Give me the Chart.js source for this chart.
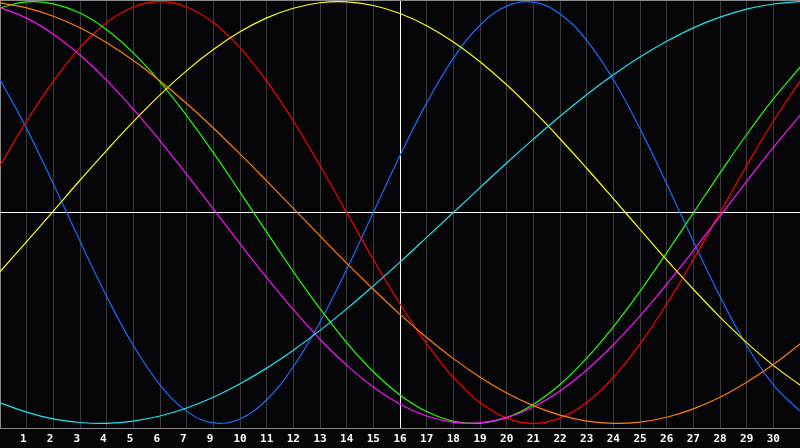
<!DOCTYPE html>
<html>
<head>
<meta charset="utf-8">
<script src="https://cdn.jsdelivr.net/npm/chart.js@4/dist/chart.umd.min.js"></script>
<style>
  html, body { margin: 0; padding: 0; background: #050508; overflow: hidden; }
  #wrap { width: 800px; height: 448px; }
</style>
</head>
<body>
<div id="wrap"><canvas id="c" width="800" height="448"></canvas></div>
<script>
// Day positions (grid steps) and their labels (day 8 is missing in the original)
const dayIndex = [0,1,2,3,4,5,6,7,8,9,10,11,12,13,14,15,16,17,18,19,20,21,22,23,24,25,26,27,28,29,30];
const dayLabels = ['1','2','3','4','5','6','7','9','10','11','12','13','14','15','16','17','18','19','20','21','22','23','24','25','26','27','28','29','30'];
const todayIndex = 15;

// Series values (range -1 .. 1)
const physical = [0.631,0.398,0.136,-0.136,-0.398,-0.631,-0.817,-0.942,-0.998,-0.979,-0.888,-0.731,-0.520,-0.270,0.000,0.270,0.520,0.731,0.888,0.979,0.998,0.942,0.817,0.631,0.398,0.136,-0.136,-0.398,-0.631,-0.817,-0.942];
const emotional = [0.223,0.434,0.623,0.782,0.901,0.975,1.000,0.975,0.901,0.782,0.623,0.434,0.223,0.000,-0.223,-0.434,-0.623,-0.782,-0.901,-0.975,-1.000,-0.975,-0.901,-0.782,-0.623,-0.434,-0.223,0.000,0.223,0.434,0.623];
const intellectual = [0.971,0.999,0.990,0.946,0.867,0.757,0.620,0.460,0.284,0.097,-0.093,-0.280,-0.456,-0.617,-0.755,-0.865,-0.944,-0.990,-0.999,-0.972,-0.910,-0.816,-0.691,-0.542,-0.374,-0.191,-0.002,0.187,0.370,0.539,0.689];
const intuitive = [0.973,0.922,0.846,0.747,0.627,0.490,0.340,0.181,0.017,-0.148,-0.309,-0.461,-0.601,-0.724,-0.828,-0.909,-0.965,-0.995,-0.998,-0.973,-0.922,-0.846,-0.747,-0.627,-0.490,-0.340,-0.181,-0.017,0.148,0.309,0.461];
const aesthetic = [-0.281,-0.138,0.007,0.153,0.295,0.431,0.558,0.673,0.773,0.857,0.923,0.969,0.995,0.999,0.982,0.944,0.886,0.809,0.715,0.606,0.483,0.350,0.210,0.066,-0.080,-0.225,-0.364,-0.496,-0.617,-0.725,-0.818];
const awareness = [0.994,0.971,0.931,0.876,0.805,0.721,0.624,0.517,0.401,0.278,0.150,0.020,-0.111,-0.240,-0.364,-0.483,-0.593,-0.693,-0.781,-0.856,-0.916,-0.961,-0.989,-1.000,-0.994,-0.971,-0.931,-0.876,-0.805,-0.721,-0.624];
const spiritual = [-0.903,-0.947,-0.979,-0.996,-1.000,-0.989,-0.965,-0.927,-0.876,-0.812,-0.738,-0.653,-0.559,-0.457,-0.348,-0.235,-0.118,0.000,0.118,0.235,0.348,0.457,0.559,0.653,0.738,0.812,0.876,0.927,0.965,0.989,1.000];

const seriesList = [
  { name: 'Spiritual', data: spiritual, color: '#19e6f0' },
  { name: 'Awareness', data: awareness, color: '#ff8000' },
  { name: 'Aesthetic', data: aesthetic, color: '#ffff00' },
  { name: 'Intuitive', data: intuitive, color: '#ff10ff' },
  { name: 'Intellectual', data: intellectual, color: '#22ff00' },
  { name: 'Emotional', data: emotional, color: '#ff0000' },
  { name: 'Physical', data: physical, color: '#1a6cff' }
];

const framePlugin = {
  id: 'frame',
  beforeDatasetsDraw(chart) {
    const { ctx, chartArea } = chart;
    ctx.save();
    ctx.strokeStyle = '#8a8a8a';
    ctx.lineWidth = 1;
    ctx.beginPath();
    ctx.moveTo(chartArea.left, chartArea.top + 0.5);
    ctx.lineTo(chartArea.right, chartArea.top + 0.5);
    ctx.stroke();
    ctx.restore();
  }
};

const bgPlugin = {
  id: 'bg',
  beforeDraw(chart) {
    const { ctx } = chart;
    ctx.save();
    ctx.fillStyle = '#050508';
    ctx.fillRect(0, 0, chart.width, chart.height);
    ctx.restore();
  }
};

new Chart(document.getElementById('c'), {
  type: 'line',
  data: {
    datasets: seriesList.map(s => ({
      label: s.name,
      data: s.data.map((v, i) => ({ x: dayIndex[i], y: v })),
      borderColor: s.color,
      borderWidth: 1.2,
      pointRadius: 0,
      pointHoverRadius: 0,
      pointHitRadius: 0,
      tension: 0.4,
      fill: false
    }))
  },
  options: {
    responsive: false,
    animation: false,
    devicePixelRatio: 1,
    layout: { padding: 0, autoPadding: false },
    plugins: { legend: { display: false }, tooltip: { enabled: false } },
    scales: {
      x: {
        type: 'linear',
        min: 0,
        max: 30,
        afterFit(scale) { scale.height = 20; scale.paddingLeft = 0; scale.paddingRight = 0; },
        afterBuildTicks(scale) { scale.ticks = dayIndex.map(v => ({ value: v })); },
        ticks: {
          autoSkip: false,
          maxRotation: 0,
          padding: 5,
          color: '#ffffff',
          font: { family: 'DejaVu Sans Mono', weight: 'bold', size: 11 },
          callback(value) {
            if (value < 1 || value > dayLabels.length) return '';
            const t = dayLabels[value - 1];
            return t.length === 1 ? t + ' ' : t;
          }
        },
        grid: {
          drawTicks: false,
          lineWidth: 1,
          color(ctx) {
            const v = ctx.tick ? ctx.tick.value : null;
            if (v === todayIndex) return '#ffffff';
            if (v === 0) return '#8a8a8a';
            return '#3a3a3a';
          }
        },
        border: { display: true, color: '#8a8a8a', width: 1 }
      },
      y: {
        min: -1.022,
        max: 1.008,
        afterFit(scale) { scale.width = 0; },
        afterBuildTicks(scale) { scale.ticks = [{ value: 0 }]; },
        ticks: { display: false },
        grid: {
          drawTicks: false,
          color: '#ffffff',
          lineWidth: 1
        },
        border: { display: false }
      }
    }
  },
  plugins: [bgPlugin, framePlugin]
});
</script>
</body>
</html>
